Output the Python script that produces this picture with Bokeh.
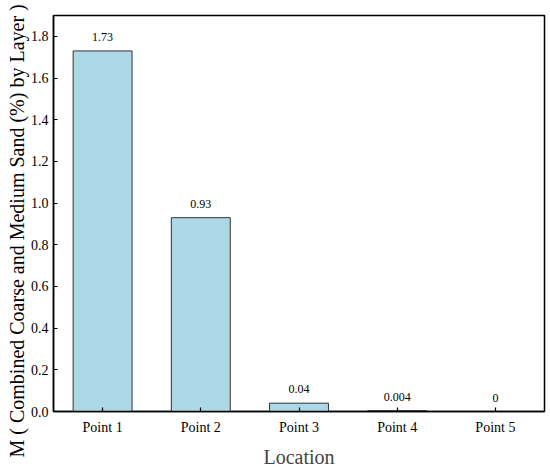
from bokeh.plotting import figure
from bokeh.models import ColumnDataSource, Range1d, FixedTicker, LabelSet, NumeralTickFormatter, Title
from bokeh.embed import file_html
from bokeh.resources import INLINE

locations = ["Point 1", "Point 2", "Point 3", "Point 4", "Point 5"]
values = [1.73, 0.93, 0.04, 0.004, 0.0]
value_labels = ["1.73", "0.93", "0.04", "0.004", "0"]
y_ticks = [0.0, 0.2, 0.4, 0.6, 0.8, 1.0, 1.2, 1.4, 1.6, 1.8]
y_title = "M ( Combined Coarse and Medium Sand (%) by Layer )"
x_title = "Location"

FONT = "Liberation Serif"

src = ColumnDataSource(dict(loc=locations, val=values, lab=value_labels))

p = figure(x_range=locations, y_range=Range1d(0, 1.9),
           frame_width=491, frame_height=396,
           min_border_left=53, min_border_right=4, min_border_top=15, min_border_bottom=50,
           output_backend="svg", toolbar_location=None)
p.x_range.range_padding = 0

p.vbar(x="loc", top="val", width=0.6, source=src,
       fill_color="#ADD8E6", line_color="#333333", line_width=1)

labels = LabelSet(x="loc", y="val", text="lab", source=src,
                  text_align="center", text_baseline="bottom", y_offset=10,
                  text_font=FONT, text_font_size="12px", text_color="black")
p.add_layout(labels)

p.xgrid.grid_line_color = None
p.ygrid.grid_line_color = None
p.outline_line_color = "black"
p.outline_line_width = 1.5
p.outline_line_alpha = 1

for ax in (p.xaxis[0], p.yaxis[0]):
    ax.axis_line_color = "black"
    ax.axis_line_width = 1.5
    ax.major_tick_in = 4
    ax.major_tick_out = 0
    ax.major_tick_line_color = "black"
    ax.major_tick_line_width = 1.2
    ax.minor_tick_line_color = None
    ax.major_label_text_font = FONT
    ax.major_label_text_font_size = "14px"
    ax.major_label_text_color = "black"

p.yaxis[0].ticker = FixedTicker(ticks=y_ticks)
p.yaxis[0].formatter = NumeralTickFormatter(format="0.0")
p.yaxis[0].major_label_standoff = 5

p.xaxis[0].major_label_standoff = 8
p.xaxis[0].axis_label = x_title
p.xaxis[0].axis_label_text_font = FONT
p.xaxis[0].axis_label_text_font_size = "20px"
p.xaxis[0].axis_label_text_font_style = "normal"
p.xaxis[0].axis_label_standoff = 8

ytitle = Title(text=y_title, align="left", offset=-46, standoff=0,
               text_font=FONT, text_font_size="20px", text_font_style="normal",
               text_color="black")
p.add_layout(ytitle, "left")

open("out.html", "w").write(file_html(p, INLINE))
